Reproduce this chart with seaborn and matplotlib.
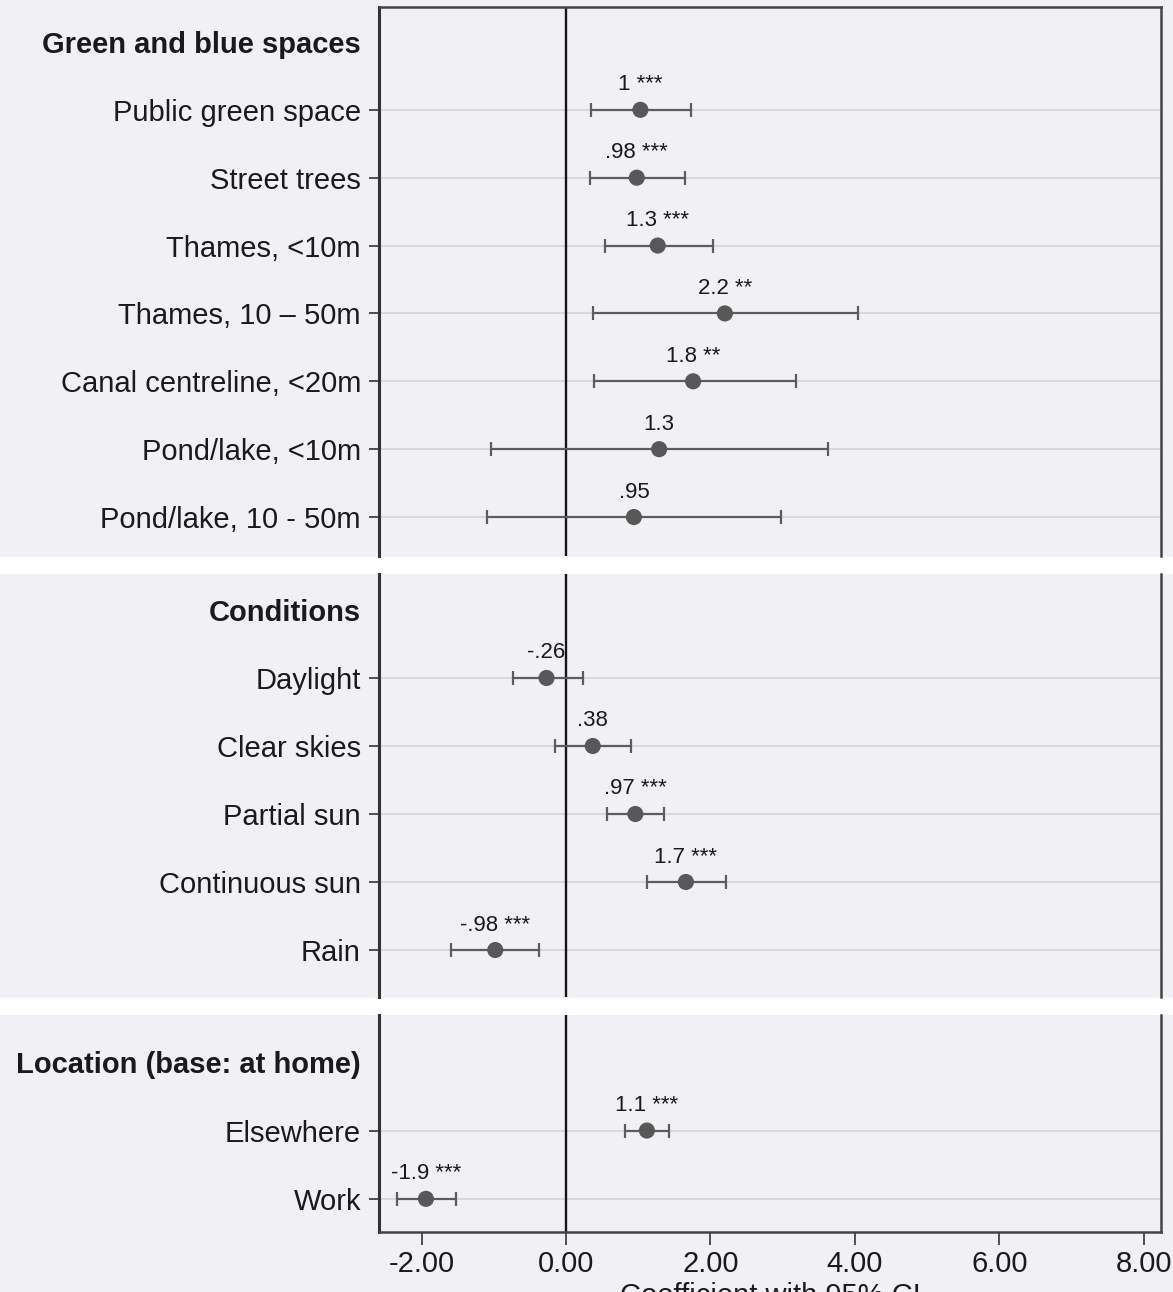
import matplotlib
matplotlib.use("Agg")
import matplotlib.pyplot as plt
import seaborn as sns
import pandas as pd
from matplotlib.patches import Rectangle

sns.set_style("white")
plt.rcParams["font.family"] = ["Liberation Sans", "DejaVu Sans"]
plt.rcParams["axes.unicode_minus"] = False

# ---------------- data ----------------
headers = ["Green and blue spaces", "Conditions", "Location (base: at home)"]

green_cats = ["Public green space", "Street trees", "Thames, <10m", "Thames, 10 \u2013 50m",
              "Canal centreline, <20m", "Pond/lake, <10m", "Pond/lake, 10 - 50m"]
green_coef = [1.03, 0.98, 1.27, 2.20, 1.76, 1.29, 0.94]
green_lo = [0.34, 0.33, 0.54, 0.37, 0.39, -1.04, -1.09]
green_hi = [1.73, 1.65, 2.04, 4.04, 3.19, 3.63, 2.98]
green_lab = ["1", ".98", "1.3", "2.2", "1.8", "1.3", ".95"]
green_stars = ["***", "***", "***", "**", "**", "", ""]

cond_cats = ["Daylight", "Clear skies", "Partial sun", "Continuous sun", "Rain"]
cond_coef = [-0.27, 0.37, 0.96, 1.66, -0.98]
cond_lo = [-0.74, -0.15, 0.57, 1.12, -1.59]
cond_hi = [0.23, 0.90, 1.36, 2.22, -0.37]
cond_lab = ["-.26", ".38", ".97", "1.7", "-.98"]
cond_stars = ["", "", "***", "***", "***"]

loc_cats = ["Elsewhere", "Work"]
loc_coef = [1.12, -1.94]
loc_lo = [0.82, -2.34]
loc_hi = [1.43, -1.53]
loc_lab = ["1.1", "-1.9"]
loc_stars = ["***", "***"]

x_ticks = [-2, 0, 2, 4, 6, 8]
x_ticklabels = ["-2.00", "0.00", "2.00", "4.00", "6.00", "8.00"]
x_label = "Coefficient with 95% CI"

panels = [
    (headers[0], green_cats, green_coef, green_lo, green_hi, green_lab, green_stars),
    (headers[1], cond_cats, cond_coef, cond_lo, cond_hi, cond_lab, cond_stars),
    (headers[2], loc_cats, loc_coef, loc_lo, loc_hi, loc_lab, loc_stars),
]

# ---------------- layout ----------------
W, H = 1173, 1292
BG = "#f1f1f5"
fig = plt.figure(figsize=(W / 100, H / 100), dpi=100, facecolor=BG)

left_px, right_px = 379, 1161
# (top px, bottom px, ylim top, ylim bottom)
panel_geo = [
    (7, 556, -0.515, 7.574),
    (574, 997, -0.529, 5.691),
    (1015, 1232, -0.691, 2.485),
]
gaps = [(557, 574), (998, 1015)]
for g0, g1 in gaps:
    fig.add_artist(Rectangle((0, 1 - g1 / H), 1, (g1 - g0) / H,
                             transform=fig.transFigure, facecolor="white",
                             edgecolor="none", zorder=-5))

XLIM = (-2.59, 8.24)
FS = 21

for i, (geo, pdata) in enumerate(zip(panel_geo, panels)):
    top, bot, yt, yb = geo
    header, cats, coef, lo, hi, lab, stars = pdata
    ax = fig.add_axes([left_px / W, 1 - bot / H, (right_px - left_px) / W, (bot - top) / H])
    ax.set_facecolor(BG)

    df = pd.DataFrame({
        "cat": cats,
        "coef": coef,
        "lo": lo,
        "hi": hi,
        "pos": list(range(1, len(cats) + 1)),
        "txt": [(l + " " + s).strip() for l, s in zip(lab, stars)],
    })

    ax.axvline(0, color="#151515", lw=1.7, zorder=2)
    ax.errorbar(df["coef"], df["pos"],
                xerr=[df["coef"] - df["lo"], df["hi"] - df["coef"]],
                fmt="none", ecolor="#5c5c5c", elinewidth=1.6, capsize=5.3,
                capthick=1.6, zorder=3)
    sns.scatterplot(data=df, x="coef", y="pos", ax=ax, s=135, color="#585858",
                    edgecolor="none", linewidth=0, zorder=4, legend=False)
    for _, r in df.iterrows():
        ax.annotate(r["txt"], (r["coef"], r["pos"]), xytext=(0, 18),
                    textcoords="offset points", ha="center", va="center",
                    fontsize=16, color="#1a1a1a", zorder=5)

    ax.set_xlim(*XLIM)
    ax.set_ylim(yb, yt)
    ax.set_yticks([0] + list(df["pos"]), [header] + cats)
    ax.tick_params(axis="y", direction="out", length=7, width=1.2, color="#333333",
                   pad=6, labelsize=FS, labelcolor="#1a1a1a", left=True)
    ax.yaxis.grid(True, color="#d6d6db", lw=1.3)
    ax.xaxis.grid(False)
    ax.set_axisbelow(True)
    t0 = ax.yaxis.get_major_ticks()[0]
    t0.tick1line.set_visible(False)
    t0.gridline.set_visible(False)
    ax.get_yticklabels()[0].set_fontweight("bold")
    ax.set_ylabel("")

    ax.set_xticks(x_ticks, x_ticklabels)
    if i == 2:
        ax.tick_params(axis="x", direction="out", length=9, width=1.2, color="#333333",
                       pad=4, labelsize=FS, labelcolor="#1a1a1a", bottom=True)
        ax.set_xlabel(x_label, fontsize=FS, color="#1a1a1a", labelpad=3)
    else:
        ax.tick_params(axis="x", bottom=False, labelbottom=False)
        ax.set_xlabel("")

    for name, sp in ax.spines.items():
        sp.set_color("#444444")
        sp.set_linewidth(1.8)
    ax.spines["left"].set_color("#333333")
    ax.spines["left"].set_linewidth(2.2)
    if i != 0:
        ax.spines["top"].set_visible(False)
    if i != 2:
        ax.spines["bottom"].set_visible(False)

fig.savefig("out.png", dpi=100, facecolor=BG)
